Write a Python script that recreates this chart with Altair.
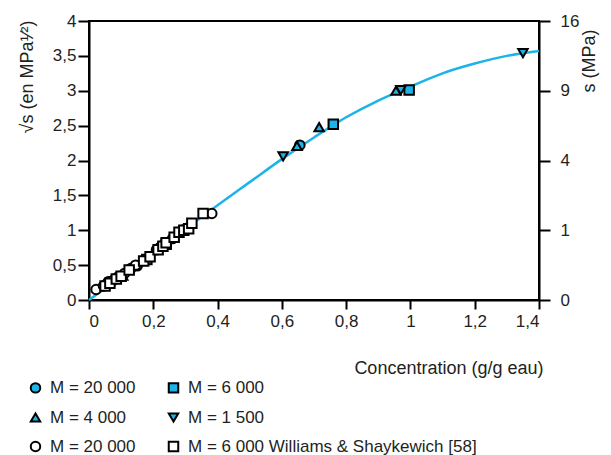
import altair as alt
import pandas as pd

# Fitted curve
curve_x = [0.0, 0.1, 0.2, 0.3, 0.4, 0.5, 0.6, 0.7, 0.8, 0.9, 1.0, 1.1, 1.2, 1.3, 1.4]
curve_y = [0.0, 0.34, 0.68, 1.02, 1.36, 1.69, 2.02, 2.33, 2.62, 2.86, 3.06, 3.25, 3.39, 3.50, 3.57]

# Series (legend is filled column by column: a, c, e | b, d, f)
series_keys = ["a", "c", "e", "b", "d", "f"]
series_labels = ["M = 20 000", "M = 4 000", "M = 20 000", "M = 6 000", "M = 1 500",
                 "M = 6 000 Williams & Shaykewich [58]"]
series_shapes = ["circle", "triangle-up", "circle", "square", "triangle-down", "square"]
series_fills = ["#1cb4e8", "#1cb4e8", "white", "#1cb4e8", "#1cb4e8", "white"]

a_x = [0.07, 0.15, 0.22, 0.29, 0.656]
a_y = [0.27, 0.49, 0.75, 1.00, 2.22]
b_x = [0.18, 0.24, 0.76, 0.996]
b_y = [0.58, 0.80, 2.52, 3.01]
c_x = [0.105, 0.647, 0.716, 0.955]
c_y = [0.35, 2.21, 2.48, 3.00]
d_x = [0.604, 0.97, 1.35]
d_y = [2.06, 3.01, 3.54]
e_x = [0.022, 0.045, 0.06, 0.075, 0.09, 0.11, 0.13, 0.145, 0.21, 0.225, 0.26, 0.285, 0.305, 0.382]
e_y = [0.15, 0.20, 0.26, 0.28, 0.33, 0.38, 0.45, 0.50, 0.72, 0.77, 0.88, 0.98, 1.03, 1.24]
f_x = [0.05, 0.065, 0.085, 0.1, 0.125, 0.17, 0.19, 0.215, 0.23, 0.24, 0.265, 0.28, 0.295, 0.31, 0.32, 0.355]
f_y = [0.20, 0.24, 0.30, 0.34, 0.43, 0.56, 0.62, 0.72, 0.77, 0.82, 0.90, 0.97, 1.0, 1.02, 1.10, 1.24]

x_ticks = [0, 0.2, 0.4, 0.6, 0.8, 1, 1.2, 1.4]
y_ticks = [0, 0.5, 1, 1.5, 2, 2.5, 3, 3.5, 4]
y2_ticks = [0, 1, 2, 3, 4]

curve_df = pd.DataFrame({"x": curve_x, "y": curve_y})
rows = []
for key, xs, ys in [("a", a_x, a_y), ("b", b_x, b_y), ("c", c_x, c_y),
                    ("d", d_x, d_y), ("e", e_x, e_y), ("f", f_x, f_y)]:
    for xv, yv in zip(xs, ys):
        rows.append({"x": xv, "y": yv, "series": key})
pts = pd.DataFrame(rows)

FONT = "Liberation Sans"
TXT = "#231f20"
BLUE = "#1cb4e8"

xscale = alt.Scale(domain=[0, 1.4], nice=False, zero=True)
yscale = alt.Scale(domain=[0, 4], nice=False, zero=True)

x_enc = alt.X("x:Q", scale=xscale, axis=alt.Axis(
    values=x_ticks, labelExpr="replace(toString(datum.value), '.', ',')",
    title="Concentration (g/g eau)", titleX=454, titleY=73, titleAlign="right",
    titleBaseline="alphabetic", tickSize=9, labelPadding=4))

line = alt.Chart(curve_df).mark_line(color=BLUE, strokeWidth=2.5, interpolate="monotone").encode(
    x=x_enc,
    y=alt.Y("y:Q", scale=yscale, axis=alt.Axis(
        values=y_ticks, labelExpr="replace(toString(datum.value), '.', ',')",
        title="√s (en MPa¹⁄²)", titleX=-62, titleY=-1, titleAngle=270,
        titleAlign="right", titleBaseline="middle", tickSize=11, labelPadding=2)),
)

label_expr = " : ".join(
    f"datum.value == '{k}' ? '{l}'" for k, l in zip(series_keys[:-1], series_labels[:-1])
) + f" : '{series_labels[-1]}'"

leg = alt.Legend(title=None, orient="none", legendX=-62, legendY=358, columns=2,
                 columnPadding=28, rowPadding=11, symbolSize=90, symbolStrokeWidth=2,
                 labelFontSize=17, labelFont=FONT, labelColor=TXT,
                 labelExpr=label_expr, labelOffset=6, labelLimit=400, padding=0)

points = alt.Chart(pts).mark_point(filled=True, strokeWidth=2, size=90, opacity=1).encode(
    x=x_enc,
    y=alt.Y("y:Q", scale=yscale, axis=alt.Axis(
        orient="right", values=y2_ticks, labelExpr="toString(datum.value * datum.value)",
        title="s (MPa)", titleX=50, titleY=8, titleAngle=270, titleAlign="right",
        titleBaseline="middle", tickSize=11, labelPadding=10)),
    fill=alt.Fill("series:N", scale=alt.Scale(domain=series_keys, range=series_fills), legend=leg),
    shape=alt.Shape("series:N", scale=alt.Scale(domain=series_keys, range=series_shapes), legend=leg),
    stroke=alt.Stroke("series:N", scale=alt.Scale(domain=series_keys, range=["black"] * 6), legend=leg),
)

chart = alt.layer(line, points).resolve_scale(y="independent").properties(
    width=450, height=279,
    autosize=alt.AutoSizeParams(type="none"),
    padding={"left": 81, "top": 13, "right": 64, "bottom": 155},
).configure_view(stroke="black", strokeWidth=2).configure_axis(
    labelFont=FONT, labelFontSize=17, labelColor=TXT, titleFont=FONT, titleFontSize=18,
    titleFontWeight="normal", titleColor=TXT, domainColor="black", domainWidth=2,
    tickColor="black", tickWidth=2, grid=False,
)

chart.save("out.html", embed_options={"renderer": "svg", "actions": False})
